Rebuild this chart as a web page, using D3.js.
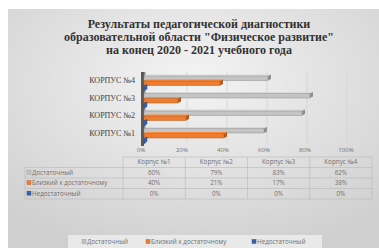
<!DOCTYPE html>
<html><head><meta charset="utf-8">
<script src="https://cdn.jsdelivr.net/npm/d3@7/dist/d3.min.js"></script>
<style>body{margin:0;background:#fff}svg{display:block}</style>
</head><body>
<svg id="c" width="379" height="248"></svg>
<script>
const titleLines = ["Результаты педагогической диагностики","образовательной области \"Физическое развитие\"","на конец 2020 - 2021 учебного года"];
const categories = ["КОРПУС №1","КОРПУС №2","КОРПУС №3","КОРПУС №4"];
const tableHeads = ["Корпус №1","Корпус №2","Корпус №3","Корпус №4"];
const seriesNames = ["Достаточный","Близкий к достаточному","Недостаточный"];
const seriesColors = ["#c4c4c4","#ed7d31","#3b64ad"];
const seriesDark = ["#8f8f8f","#b85a1c","#233f75"];
const dostatochny = [60,79,83,62];
const blizkiy = [40,21,17,38];
const nedostatochny = [0,0,0,0];
const series = [dostatochny, blizkiy, nedostatochny];
const xTicks = [0,20,40,60,80,100];

const serif = "'Liberation Serif', 'DejaVu Serif', serif";
const sans = "'Open Sans', 'Liberation Sans', sans-serif";

const svg = d3.select("#c");
const defs = svg.append("defs");
const rg = defs.append("radialGradient").attr("id","bg").attr("cx","50%").attr("cy","30%").attr("r","75%");
rg.append("stop").attr("offset","0%").attr("stop-color","#f4f4f4");
rg.append("stop").attr("offset","100%").attr("stop-color","#cfcfcf");
svg.append("rect").attr("x",8).attr("y",9).attr("width",371).attr("height",239).attr("fill","url(#bg)");

// title
svg.append("g").selectAll("text").data(titleLines).join("text")
  .attr("x",199).attr("y",(d,i)=>28+i*13).attr("text-anchor","middle")
  .style("font-family",serif).attr("font-weight","bold")
  .attr("font-size",12).attr("fill","#333").text(d=>d);

const x = d3.scaleLinear().domain([0,100]).range([143,343]);
const y = d3.scaleBand().domain(categories.slice().reverse()).range([75,145]);
const depth = 3;
const barH = 5;

// gridlines (back wall)
svg.append("g").selectAll("line").data(xTicks.slice(1)).join("line")
  .attr("x1",d=>x(d)+depth+1).attr("x2",d=>x(d)+depth+1).attr("y1",72).attr("y2",143)
  .attr("stroke","#d2d2d2").attr("stroke-width",0.8);

// side wall (axis)
svg.append("rect").attr("x",x(0)-2).attr("y",72).attr("width",3).attr("height",74).attr("fill","#5a5a5a");
svg.append("rect").attr("x",x(0)+1).attr("y",72).attr("width",1.5).attr("height",72).attr("fill","#8a8a8a");

// bars
const gBars = svg.append("g");
categories.forEach((c,ci)=>{
  series.forEach((s,si)=>{
    const v = s[ci];
    const y0 = y(c)+1+si*barH;
    const x0 = x(0)+1, x1 = x(v)+1;
    gBars.append("path").attr("d",`M${x0},${y0} L${x0+depth},${y0-1.5} L${x1+depth},${y0-1.5} L${x1},${y0} Z`)
      .attr("fill",d3.color(seriesColors[si]).brighter(0.3));
    gBars.append("path").attr("d",`M${x1},${y0} L${x1+depth},${y0-1.5} L${x1+depth},${y0+barH-2} L${x1},${y0+barH-0.5} Z`)
      .attr("fill",v>0?seriesDark[si]:seriesColors[si]).attr("stroke",seriesDark[si]).attr("stroke-width",v>0?0:0.5);
    if (v>0) gBars.append("rect").attr("x",x0).attr("y",y0).attr("width",x1-x0).attr("height",barH-0.5)
      .attr("fill",seriesColors[si]).attr("stroke",seriesDark[si]).attr("stroke-width",0.5);
  });
});

// category labels
svg.append("g").selectAll("text").data(categories).join("text")
  .attr("x",135).attr("y",d=>y(d)+8).attr("text-anchor","end")
  .style("font-family",serif).attr("font-size",8)
  .attr("fill","#404040").text(d=>d);

// x tick labels
svg.append("g").selectAll("text").data(xTicks).join("text")
  .attr("x",d=>x(d)-2+d*0.05).attr("y",152).attr("text-anchor","middle")
  .style("font-family",sans).attr("font-size",6)
  .attr("fill","#707070").text(d=>d+"%");

// data table
const colX = d3.scaleBand().domain(tableHeads).range([123,372]);
const rowY = d3.scaleBand().domain(["h"].concat(seriesNames)).range([157,199]);
const tg = svg.append("g").style("font-family",sans).attr("font-size",6.3).attr("fill","#707070");
const lc = "#b8b8b8";
tg.append("line").attr("x1",123).attr("x2",372).attr("y1",rowY("h")).attr("y2",rowY("h")).attr("stroke",lc).attr("stroke-width",0.6);
seriesNames.forEach(n=>tg.append("line").attr("x1",25).attr("x2",372).attr("y1",rowY(n)).attr("y2",rowY(n)).attr("stroke",lc).attr("stroke-width",0.6));
tg.append("line").attr("x1",25).attr("x2",372).attr("y1",199).attr("y2",199).attr("stroke",lc).attr("stroke-width",0.6);
tableHeads.forEach(h=>tg.append("line").attr("x1",colX(h)).attr("x2",colX(h)).attr("y1",157).attr("y2",199).attr("stroke",lc).attr("stroke-width",0.6));
tg.append("line").attr("x1",372).attr("x2",372).attr("y1",157).attr("y2",199).attr("stroke",lc).attr("stroke-width",0.6);
tg.append("line").attr("x1",25).attr("x2",25).attr("y1",rowY(seriesNames[0])).attr("y2",199).attr("stroke",lc).attr("stroke-width",0.6);
tg.selectAll("text.h").data(tableHeads).join("text").attr("class","h")
  .attr("x",d=>colX(d)+colX.bandwidth()/2).attr("y",rowY("h")+rowY.bandwidth()/2+2.2).attr("text-anchor","middle").text(d=>d);
seriesNames.forEach((n,si)=>{
  const ry = rowY(n)+rowY.bandwidth()/2+2.2;
  tg.append("rect").attr("x",27).attr("y",ry-4.8).attr("width",4).attr("height",4).attr("fill",seriesColors[si]).attr("stroke",seriesDark[si]).attr("stroke-width",0.4);
  tg.append("text").attr("x",32).attr("y",ry).text(n);
  tg.selectAll(null).data(series[si]).join("text")
    .attr("x",(d,i)=>colX(tableHeads[i])+colX.bandwidth()/2).attr("y",ry).attr("text-anchor","middle").text(d=>d+"%");
});

// legend
const lg = svg.append("g").style("font-family",sans).attr("font-size",6.3).attr("fill","#707070");
lg.append("rect").attr("x",68).attr("y",235).attr("width",254).attr("height",13).attr("fill","#e9e9e9");
const legX = [82,146,252];
seriesNames.forEach((n,i)=>{
  lg.append("rect").attr("x",legX[i]).attr("y",239.5).attr("width",4).attr("height",4).attr("fill",seriesColors[i]).attr("stroke",seriesDark[i]).attr("stroke-width",0.4);
  lg.append("text").attr("x",legX[i]+5).attr("y",244).text(n);
});
</script>
</body></html>
